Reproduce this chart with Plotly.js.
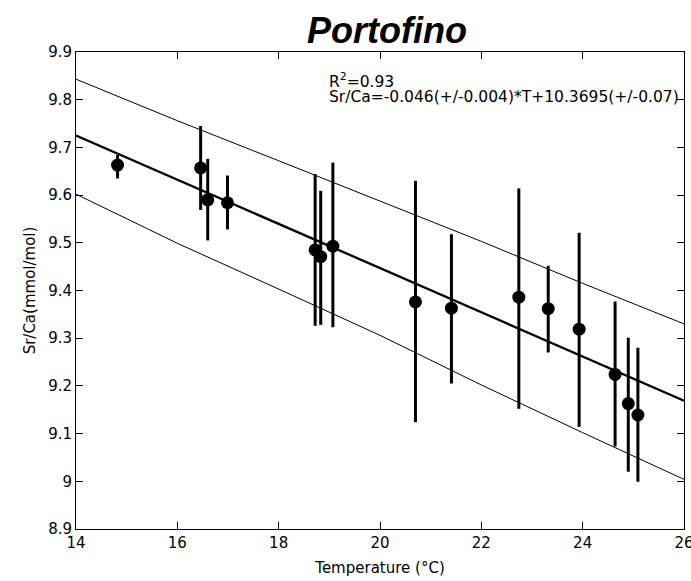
<!DOCTYPE html>
<html>
<head>
<meta charset="utf-8">
<script src="https://cdn.plot.ly/plotly-3.0.1.min.js"></script>
<style>html,body{margin:0;padding:0;background:#fff;}#chart{width:691px;height:581px;}</style>
</head>
<body>
<div id="chart"></div>
<script>
var temperature = [14.82, 16.46, 16.60, 16.99, 18.72, 18.83, 19.07, 20.70, 21.41, 22.74, 23.32, 23.93, 24.64, 24.90, 25.09];
var srca        = [9.663, 9.657, 9.590, 9.584, 9.485, 9.471, 9.493, 9.376, 9.363, 9.386, 9.362, 9.319, 9.224, 9.163, 9.139];
var errPlus     = [0.021, 0.088, 0.086, 0.057, 0.159, 0.138, 0.175, 0.254, 0.155, 0.228, 0.090, 0.202, 0.153, 0.138, 0.141];
var errMinus    = [0.028, 0.088, 0.085, 0.056, 0.159, 0.143, 0.170, 0.252, 0.158, 0.234, 0.092, 0.205, 0.151, 0.143, 0.140];

// Regression line (read at the axis ends)
var fitT = [14, 26];
var fitV = [9.725, 9.169];

// Confidence band lines
var bandT     = [14, 16, 18, 20, 22, 24, 26];
var bandUpper = [9.843, 9.756, 9.672, 9.588, 9.503, 9.415, 9.330];
var bandLower = [9.602, 9.499, 9.403, 9.306, 9.202, 9.102, 9.004];

// Axis ticks
var xTicks = [14, 16, 18, 20, 22, 24, 26];
var yTicks = [8.9, 9.0, 9.1, 9.2, 9.3, 9.4, 9.5, 9.6, 9.7, 9.8, 9.9];
var yTickText = ['8.9', '9', '9.1', '9.2', '9.3', '9.4', '9.5', '9.6', '9.7', '9.8', '9.9'];

var smallFont = {family: 'DejaVu Sans, Arial, sans-serif', size: 15, color: '#000'};
var noteFont = {family: 'DejaVu Sans, Arial, sans-serif', size: 15.5, color: '#000'};

var traces = [
  {x: bandT, y: bandUpper, mode: 'lines', line: {color: '#000', width: 1}, hoverinfo: 'skip'},
  {x: bandT, y: bandLower, mode: 'lines', line: {color: '#000', width: 1}, hoverinfo: 'skip'},
  {x: fitT, y: fitV, mode: 'lines', line: {color: '#000', width: 2.3}, hoverinfo: 'skip'},
  {x: temperature, y: srca, mode: 'markers', type: 'scatter',
   marker: {color: '#000', size: 13, symbol: 'circle'},
   error_y: {type: 'data', symmetric: false, array: errPlus, arrayminus: errMinus,
             color: '#000', thickness: 3, width: 0}}
];

var layout = {
  width: 691, height: 581,
  margin: {l: 76, r: 7, t: 52, b: 52, pad: 0},
  paper_bgcolor: '#fff', plot_bgcolor: '#fff',
  showlegend: false,
  font: smallFont,
  title: {text: '<b><i>Portofino</i></b>', font: {family: 'Liberation Sans, Arial, sans-serif', size: 36, color: '#000'},
          x: 0.56, xref: 'container', xanchor: 'center', y: 0.947, yref: 'container', yanchor: 'middle'},
  xaxis: {range: [14, 26], tickvals: xTicks, ticks: 'inside', ticklen: 7, tickcolor: '#000',
          showline: true, linecolor: '#000', linewidth: 1, mirror: 'ticks', showgrid: false, zeroline: false,
          tickfont: smallFont, ticklabeloverflow: 'allow',
          title: {text: 'Temperature (°C)', font: smallFont, standoff: 11}},
  yaxis: {range: [8.9, 9.9], tickvals: yTicks, ticktext: yTickText, ticks: 'inside', ticklen: 7, tickcolor: '#000',
          showline: true, linecolor: '#000', linewidth: 1, mirror: 'ticks', showgrid: false, zeroline: false,
          tickfont: smallFont,
          title: {text: 'Sr/Ca(mmol/mol)', font: smallFont, standoff: 8}},
  annotations: [
    {xref: 'paper', yref: 'paper', x: 0.4145, y: 0.941, xanchor: 'left', yanchor: 'middle',
     text: 'R<sup>2</sup>=0.93', showarrow: false, font: noteFont, align: 'left', borderpad: 0},
    {xref: 'paper', yref: 'paper', x: 0.4145, y: 0.905, xanchor: 'left', yanchor: 'middle',
     text: 'Sr/Ca=-0.046(+/-0.004)*T+10.3695(+/-0.07)', showarrow: false, font: noteFont, align: 'left', borderpad: 0}
  ]
};

Plotly.newPlot('chart', traces, layout, {displayModeBar: false, staticPlot: true});
</script>
</body>
</html>
